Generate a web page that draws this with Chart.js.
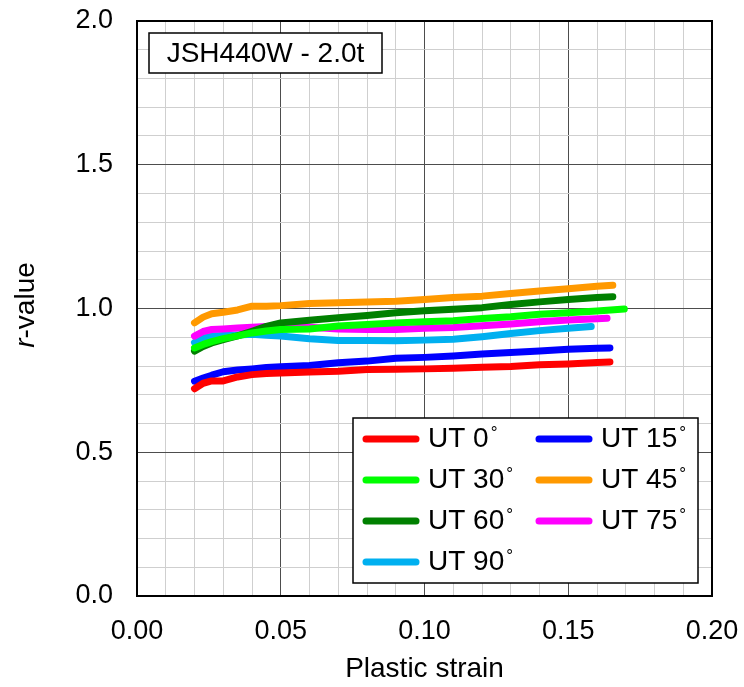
<!DOCTYPE html>
<html>
<head>
<meta charset="utf-8">
<script src="https://cdn.jsdelivr.net/npm/chart.js@4.4.1/dist/chart.umd.min.js"></script>
<style>
html,body{margin:0;padding:0;background:#fff;}
#wrap{width:744px;height:687px;}
</style>
</head>
<body>
<div id="wrap"><canvas id="c" width="744" height="687"></canvas></div>
<script>
// ---- data ----
const strain = [0.020, 0.023, 0.026, 0.030, 0.035, 0.040, 0.045, 0.050, 0.060, 0.070, 0.080, 0.090, 0.100, 0.110, 0.120, 0.130, 0.140, 0.150, 0.160];
const ut0  = [0.721, 0.740, 0.748, 0.748, 0.762, 0.770, 0.774, 0.776, 0.779, 0.782, 0.788, 0.789, 0.790, 0.792, 0.796, 0.798, 0.804, 0.807, 0.812];
const ut15 = [0.747, 0.758, 0.768, 0.780, 0.786, 0.790, 0.795, 0.797, 0.802, 0.811, 0.817, 0.827, 0.830, 0.835, 0.842, 0.847, 0.852, 0.858, 0.862];
const ut30 = [0.863, 0.875, 0.885, 0.895, 0.905, 0.915, 0.922, 0.927, 0.929, 0.939, 0.944, 0.950, 0.954, 0.957, 0.965, 0.971, 0.980, 0.985, 0.991];
const ut45 = [0.950, 0.970, 0.982, 0.987, 0.995, 1.008, 1.008, 1.010, 1.017, 1.020, 1.023, 1.025, 1.031, 1.038, 1.043, 1.052, 1.061, 1.069, 1.077];
const ut60 = [0.852, 0.868, 0.880, 0.892, 0.905, 0.921, 0.938, 0.950, 0.959, 0.968, 0.976, 0.985, 0.992, 0.997, 1.003, 1.014, 1.023, 1.031, 1.038];
const ut75 = [0.904, 0.920, 0.927, 0.929, 0.932, 0.935, 0.937, 0.939, 0.935, 0.929, 0.927, 0.927, 0.931, 0.934, 0.940, 0.946, 0.954, 0.960, 0.964];
const ut90 = [0.881, 0.897, 0.904, 0.906, 0.908, 0.910, 0.907, 0.904, 0.895, 0.889, 0.889, 0.888, 0.890, 0.893, 0.902, 0.913, 0.923, 0.931, null];
// last point of each curve [strain, r-value]
const ut0End  = [0.1645, 0.814];
const ut15End = [0.1645, 0.863];
const ut30End = [0.1695, 0.998];
const ut45End = [0.1655, 1.081];
const ut60End = [0.1655, 1.041];
const ut75End = [0.1635, 0.966];
const ut90End = [0.158, 0.937];
const seriesLabels = ['UT 0', 'UT 15', 'UT 30', 'UT 45', 'UT 60', 'UT 75', 'UT 90'];
const xTicks = [0.00, 0.05, 0.10, 0.15, 0.20];
const yTicks = [0.0, 0.5, 1.0, 1.5, 2.0];
const chartTitle = 'JSH440W - 2.0t';
const xTitle = 'Plastic strain';
const yTitleItalic = 'r';
const yTitleRest = '-value';

const colors = ['#ff0000', '#0000ff', '#00ff00', '#ff9900', '#008000', '#ff00ff', '#00b0f0'];
const allSeries = [ut0, ut15, ut30, ut45, ut60, ut75, ut90];
const allEnds = [ut0End, ut15End, ut30End, ut45End, ut60End, ut75End, ut90End];

function build(arr, end) {
  const pts = [];
  strain.forEach((x, i) => { if (arr[i] !== null) pts.push({x: x, y: arr[i]}); });
  pts.push({x: end[0], y: end[1]});
  return pts;
}

const datasets = allSeries.map((arr, i) => ({
  label: seriesLabels[i],
  data: build(arr, allEnds[i]),
  borderColor: colors[i],
  backgroundColor: colors[i],
  borderWidth: 7,
  pointRadius: 0,
  tension: 0,
  borderCapStyle: 'round',
  borderJoinStyle: 'round',
  fill: false
}));

const FONT = '"Liberation Sans", Arial, sans-serif';

function isMajorX(v) { return xTicks.some(t => Math.abs(t - v) < 1e-6); }
function isMajorY(v) { return yTicks.some(t => Math.abs(t - v) < 1e-6); }

const overlay = {
  id: 'overlay',
  afterDraw(chart) {
    const ctx = chart.ctx;
    const a = chart.chartArea;
    ctx.save();
    // plot border
    ctx.strokeStyle = '#000';
    ctx.lineWidth = 2;
    ctx.strokeRect(a.left, a.top, a.right - a.left, a.bottom - a.top);

    // title box
    ctx.fillStyle = '#fff';
    ctx.fillRect(149, 33, 233, 40);
    ctx.lineWidth = 1.5;
    ctx.strokeRect(149, 33, 233, 40);
    ctx.fillStyle = '#000';
    ctx.font = '28px ' + FONT;
    ctx.textAlign = 'center';
    ctx.textBaseline = 'middle';
    ctx.fillText(chartTitle, 265.5, 54);

    // legend box
    ctx.fillStyle = '#fff';
    ctx.fillRect(353, 418, 345, 165);
    ctx.strokeStyle = '#000';
    ctx.lineWidth = 1.5;
    ctx.strokeRect(353, 418, 345, 165);
    const rows = [439, 480, 521, 562];
    const cols = [{l0: 366, l1: 416, t: 428}, {l0: 539, l1: 589, t: 601}];
    seriesLabels.forEach((lab, i) => {
      const col = cols[i % 2];
      const y = rows[Math.floor(i / 2)];
      ctx.strokeStyle = colors[i];
      ctx.lineWidth = 7;
      ctx.lineCap = 'round';
      ctx.beginPath();
      ctx.moveTo(col.l0, y);
      ctx.lineTo(col.l1, y);
      ctx.stroke();
      ctx.fillStyle = '#000';
      ctx.font = '28px ' + FONT;
      ctx.textAlign = 'left';
      ctx.textBaseline = 'middle';
      ctx.fillText(lab, col.t, y);
      const w = ctx.measureText(lab).width;
      ctx.font = '17px ' + FONT;
      ctx.textBaseline = 'alphabetic';
      ctx.fillText('\u00b0', col.t + w + 2, y - 1);
    });

    // y-axis title with italic r
    ctx.translate(26, 305);
    ctx.rotate(-Math.PI / 2);
    ctx.textBaseline = 'middle';
    ctx.textAlign = 'left';
    ctx.font = 'italic 28px ' + FONT;
    const wr = ctx.measureText(yTitleItalic).width;
    ctx.font = '28px ' + FONT;
    const wv = ctx.measureText(yTitleRest).width;
    const start = -(wr + wv) / 2;
    ctx.font = 'italic 28px ' + FONT;
    ctx.fillText(yTitleItalic, start, 0);
    ctx.font = '28px ' + FONT;
    ctx.fillText(yTitleRest, start + wr, 0);
    ctx.restore();
  }
};

new Chart(document.getElementById('c'), {
  type: 'line',
  data: { datasets: datasets },
  options: {
    responsive: false,
    animation: false,
    devicePixelRatio: 1,
    layout: { padding: { left: 0, right: 32, top: 21, bottom: 0 } },
    plugins: { legend: { display: false }, tooltip: { enabled: false }, title: { display: false } },
    scales: {
      x: {
        type: 'linear',
        min: 0, max: 0.2,
        afterFit(s) { s.height = 91; s.paddingLeft = 0; s.paddingRight = 0; s.paddingTop = 0; s.paddingBottom = 0; },
        ticks: {
          stepSize: 0.01,
          autoSkip: false,
          maxRotation: 0,
          padding: 19,
          color: '#000',
          font: { family: FONT, size: 27 },
          callback: v => isMajorX(v) ? Number(v).toFixed(2) : ''
        },
        grid: {
          drawTicks: false,
          lineWidth: 1,
          color: c => (c.tick && isMajorX(c.tick.value)) ? '#4d4d4d' : '#cfcfcf'
        },
        border: { display: false },
        title: {
          display: true,
          text: xTitle,
          color: '#000',
          font: { family: FONT, size: 28 },
          padding: { top: 0, bottom: 1 }
        }
      },
      y: {
        type: 'linear',
        min: 0, max: 2,
        afterFit(s) { s.width = 137; s.paddingLeft = 0; s.paddingRight = 0; s.paddingTop = 0; s.paddingBottom = 0; },
        ticks: {
          stepSize: 0.1,
          autoSkip: false,
          padding: 24,
          color: '#000',
          font: { family: FONT, size: 27 },
          callback: v => isMajorY(v) ? Number(v).toFixed(1) : ''
        },
        grid: {
          drawTicks: false,
          lineWidth: 1,
          color: c => (c.tick && isMajorY(c.tick.value)) ? '#4d4d4d' : '#cfcfcf'
        },
        border: { display: false }
      }
    }
  },
  plugins: [overlay]
});
</script>
</body>
</html>
